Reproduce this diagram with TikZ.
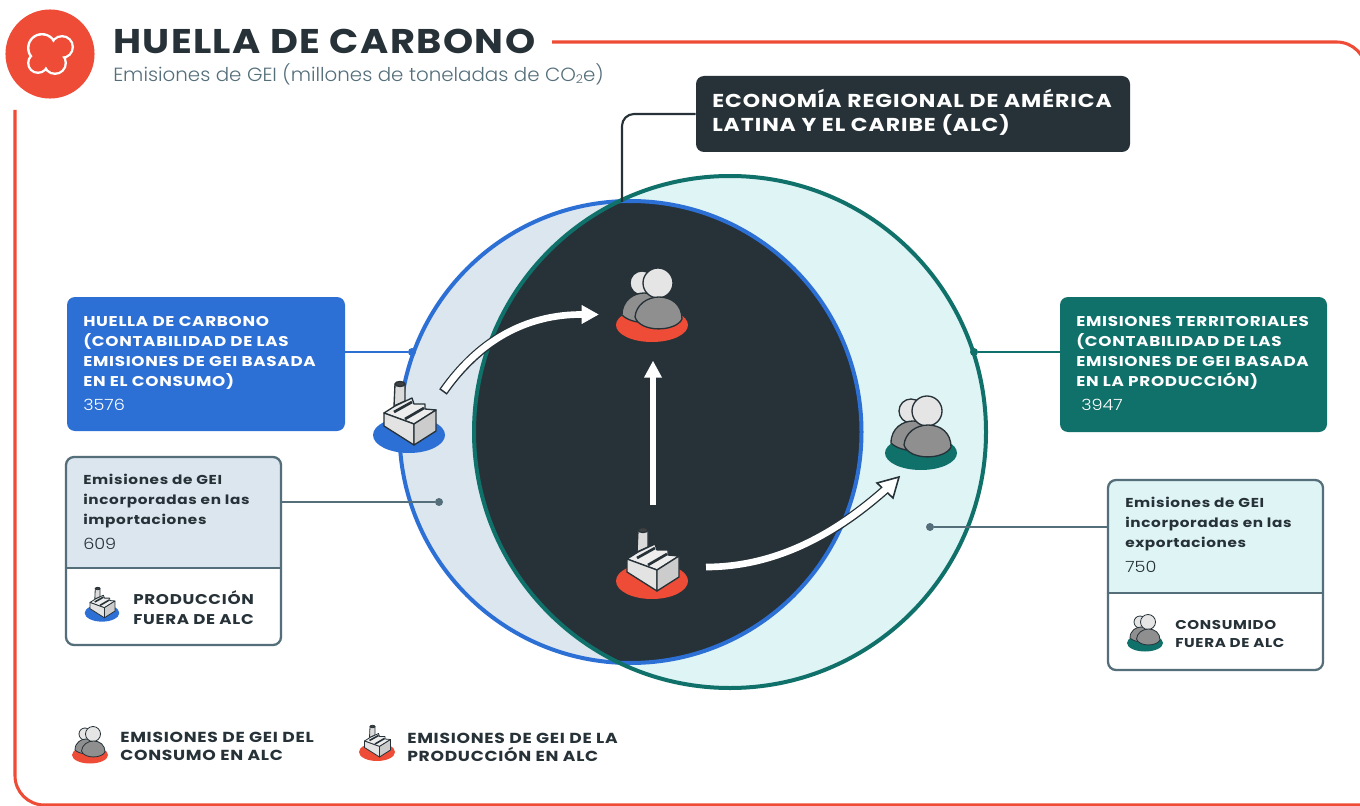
\documentclass[tikz,border=0pt]{standalone}
\usepackage{fontspec}
\setmainfont{Poppins}
\newfontfamily\lightf[FakeStretch=1.04]{Poppins Light}
\newfontfamily\valf[FakeStretch=1.14]{Poppins Light}
\newfontfamily\wb[FakeStretch=1.18,LetterSpace=5]{Poppins}
\newfontfamily\tb[FakeStretch=1.12,LetterSpace=4]{Poppins}
\usetikzlibrary{calc}
\definecolor{ink}{HTML}{263238}
\definecolor{slate}{HTML}{546E7A}
\definecolor{redc}{HTML}{EE4C37}
\definecolor{bluec}{HTML}{2D70D5}
\definecolor{tealc}{HTML}{10716B}
\definecolor{lblue}{HTML}{DCE6EF}
\definecolor{lteal}{HTML}{DFF4F5}
\definecolor{midg}{HTML}{8F8F8F}
\tikzset{
  x=0.75pt,y=-0.75pt,
  tx/.style={anchor=west,align=left,inner sep=0pt,text=ink},
  hd/.style={tx,font=\wb\fontsize{10.65}{14.9}\selectfont\bfseries},
  hdw/.style={hd,text=white},
  sb/.style={tx,font=\wb\fontsize{9.7}{15}\selectfont\bfseries},
  val/.style={tx,font=\valf\fontsize{11.6}{12}\selectfont},
  lg/.style={tx,font=\wb\fontsize{10.9}{13.6}\selectfont\bfseries},
  panel/.style={rectangle,rounded corners=6pt,inner sep=0pt,draw=none},
  fbox/.style={rectangle,rounded corners=6pt,inner sep=0pt,draw=slate,line width=1.7pt,fill=white},
  dot/.style={circle,inner sep=0pt,minimum size=6pt},
  pics/factory/.style n args={2}{code={
    \fill[#1] (0,0) ellipse [x radius=36,y radius=18];
    \begin{scope}[draw=ink,line width=#2pt,line join=round]
    \filldraw[fill=black!14] (-15,-29) -- (-14,-51) -- (-4,-51) -- (-4,-34) -- cycle;
    \filldraw[fill=black!75] (-9,-51) ellipse [x radius=5,y radius=2.5];
    \filldraw[fill=black!7] (-25,-22) -- (-14,-29) -- (3,-37) -- (5,-31) -- (16,-31) -- (16,-26) -- (27,-25) -- (5,-11) -- cycle;
    \filldraw[fill=black!11] (-25,-22) -- (5,-11) -- (5,10) -- (-25,-9) -- cycle;
    \filldraw[fill=black!20] (5,-11) -- (27,-25) -- (27,-4) -- (5,10) -- cycle;
    \draw[line width=2*#2 pt] (-15,-23) -- (3,-33) (-4,-16) -- (15,-27);
    \end{scope}
  }},
  pics/people/.style n args={2}{code={
    \fill[#1] (0,0) ellipse [x radius=36,y radius=17];
    \begin{scope}[draw=ink,line width=#2pt]
    \filldraw[fill=black!10] (-10,-42) circle [radius=12];
    \filldraw[fill=midg] (-30,-10) .. controls (-30,-25) and (-18,-32) .. (-8,-32) .. controls (5,-32) and (10,-25) .. (14,-10) .. controls (5,0) and (-20,0) .. (-30,-10) -- cycle;
    \filldraw[fill=black!10] (6,-42) circle [radius=15];
    \filldraw[fill=midg] (-17,-8) .. controls (-16,-20) and (-5,-28) .. (7,-28) .. controls (20,-28) and (30,-20) .. (30,-6) .. controls (24,7) and (-12,8) .. (-17,-8) -- cycle;
    \end{scope}
  }},
}
\begin{document}
\begin{tikzpicture}
\useasboundingbox (0,0) rectangle (1360,806);
\fill[white] (0,0) rectangle (1360,806);
% frame
\coordinate (fa) at (552,42);
\coordinate (fb) at (15,110);
\draw[redc,line width=2.3pt,rounded corners=22pt] (fa) -- (1366,42) -- (1366,80);
\draw[redc,line width=2.3pt,rounded corners=22pt] (fb) -- (15,805) -- (1362,805);
% logo
\node[circle,fill=redc,minimum size=66.8pt,inner sep=0pt] (logo) at (50,54) {};
\fill[white] (42,48) circle [radius=15] (62,47) circle [radius=12] (38,63) circle [radius=11] (55,63) circle [radius=12];
\fill[redc] (42,48) circle [radius=12.6] (62,47) circle [radius=9.6] (38,63) circle [radius=8.6] (55,63) circle [radius=9.6] (49,55) circle [radius=10];
% title
\node[tx,font=\tb\fontsize{25.7}{30}\selectfont\bfseries] (title) at (113,41) {HUELLA DE CARBONO};
\node[tx,font=\lightf\fontsize{14.3}{16}\selectfont,text=slate] (subt) at (113,74) {Emisiones de GEI (millones de toneladas de CO\raisebox{-0.25ex}{\fontsize{9}{9}\selectfont 2}e)};
% circles
\coordinate (cb) at (630.5,432);
\coordinate (ct) at (730,432);
\fill[lteal] (ct) circle [radius=256];
\fill[lblue] (cb) circle [radius=231];
\begin{scope}
\clip (cb) circle [radius=231];
\fill[ink] (ct) circle [radius=256];
\end{scope}
\draw[bluec,line width=3pt] (cb) circle [radius=231];
\draw[tealc,line width=3pt] (ct) circle [radius=256];
% dark header
\node[panel,fill=ink,minimum width=325.5pt,minimum height=57pt] (hdr) at (913,114) {};
\node[tx,text=white,font=\wb\fontsize{14}{18}\selectfont\bfseries] (hdrt) at (712,112) {ECONOMÍA REGIONAL DE AMÉRICA\\LATINA Y EL CARIBE (ALC)};
\coordinate (hk) at (622,202);
\draw[ink,line width=1.6pt,rounded corners=9pt] (hdr.west) -- (hk |- hdr.west) -- (hk);
% blue panel
\node[panel,fill=bluec,minimum width=208.5pt,minimum height=100.5pt] (bp) at (206,364) {};
\node[hdw] (bpt) at (83,353) {HUELLA DE CARBONO\\(CONTABILIDAD DE LAS\\EMISIONES DE GEI BASADA\\EN EL CONSUMO)};
\node[val,text=white] (bpv) at (83,405) {3576};
\node[dot,fill=bluec] (bd) at (412,352) {};
\draw[bluec,line width=1.6pt] (bp.east |- bd) -- (bd);
% teal panel
\node[panel,fill=tealc,minimum width=200.25pt,minimum height=101.25pt] (tp) at (1193.5,364.5) {};
\node[hdw] (tpt) at (1076,353) {EMISIONES TERRITORIALES\\(CONTABILIDAD DE LAS\\EMISIONES DE GEI BASADA\\EN LA PRODUCCIÓN)};
\node[val,text=white] (tpv) at (1081,405) {3947};
\node[dot,fill=tealc] (td) at (974,352) {};
\draw[tealc,line width=1.6pt] (tp.west |- td) -- (td);
% left box
\node[fbox,minimum width=161.25pt,minimum height=141pt,path picture={\fill[lblue] (-120,-100) rectangle (120,17);}] (lb) at (173.5,551) {};
\coordinate (ls) at (0,568);
\draw[slate,line width=1.7pt] (lb.west |- ls) -- (lb.east |- ls);
\node[sb] (lbt) at (83,501.5) {Emisiones de GEI\\incorporadas en las\\importaciones};
\node[val] (lbv) at (83,544) {609};
\node[hd,font=\wb\fontsize{10.6}{15}\selectfont\bfseries] (lbl) at (133,607.5) {PRODUCCIÓN\\FUERA DE ALC};
\node[dot,fill=slate] (ld) at (439,502) {};
\draw[slate,line width=1.6pt] (lb.east |- ld) -- (ld);
% right box
\node[fbox,minimum width=161.25pt,minimum height=142.5pt,path picture={\fill[lteal] (-120,-100) rectangle (120,18);}] (rb) at (1215.5,575) {};
\coordinate (rs) at (0,593);
\draw[slate,line width=1.7pt] (rb.west |- rs) -- (rb.east |- rs);
\node[sb] (rbt) at (1125,524.5) {Emisiones de GEI\\incorporadas en las\\exportaciones};
\node[val] (rbv) at (1125,567) {750};
\node[hd,font=\wb\fontsize{9.6}{13}\selectfont\bfseries] (rbl) at (1175,634) {CONSUMIDO\\FUERA DE ALC};
\node[dot,fill=slate] (rd) at (930,527) {};
\draw[slate,line width=1.6pt] (rb.west |- rd) -- (rd);
% icons
\pic at (409,435) {factory={bluec}{1}};
\pic at (652,581) {factory={redc}{1}};
\pic at (652,325) {people={redc}{1}};
\pic at (921,453) {people={tealc}{1}};
\pic[scale=.48] at (102,613) {factory={bluec}{.6}};
\pic[scale=.5] at (1145,643) {people={tealc}{.6}};
\pic[scale=.5] at (90,755) {people={redc}{.6}};
\pic[scale=.5] at (377,752) {factory={redc}{.6}};
% arrows
\coordinate (a1s) at (443,392); \coordinate (a1e) at (583,314.5);
\coordinate (a2s) at (653,505); \coordinate (a2e) at (653,376);
\coordinate (a3s) at (706,567); \coordinate (a3e) at (886,489);
\draw[ink,line width=7pt] (a1s) .. controls (478,342) and (525,314) .. (a1e);
\draw[white,line width=5pt,shorten <=1.2pt] (a1s) .. controls (478,342) and (525,314) .. (a1e);
\filldraw[fill=white,draw=white] (598,314.5) -- (582,305.5) -- (582,323.5) -- cycle;
\draw[white,line width=5pt] (a2s) -- (a2e);
\fill[white] (653,361) -- (662,377.5) -- (644,377.5) -- cycle;
\draw[ink,line width=7pt] (a3s) .. controls (780,567) and (840,530) .. (a3e);
\filldraw[fill=white,draw=ink,line width=1.2pt,line join=miter] (899,477) -- (893,498) -- (877,483) -- cycle;
\draw[white,line width=5pt,shorten >=-1pt] (a3s) .. controls (780,567) and (840,530) .. (a3e);
% legend
\node[lg] (lg1) at (120,746.5) {EMISIONES DE GEI DEL\\CONSUMO EN ALC};
\node[lg] (lg2) at (407,747.5) {EMISIONES DE GEI DE LA\\PRODUCCIÓN EN ALC};
\end{tikzpicture}
\end{document}
